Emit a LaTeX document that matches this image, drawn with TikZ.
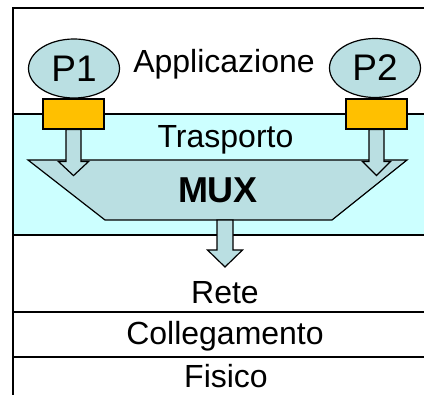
\documentclass[tikz,border=0pt]{standalone}
\usepackage{fontspec}
\setmainfont{Liberation Sans}
\usetikzlibrary{shapes.geometric,calc}
\definecolor{bandc}{HTML}{CCFFFF}
\definecolor{blu}{HTML}{BADFE2}
\definecolor{orng}{HTML}{FFC000}
\begin{document}
\begin{tikzpicture}[x=1pt,y=-1pt,line join=miter,
  layer/.style={line width=1.6pt},
  proc/.style={ellipse,draw,fill=blu,line width=1.2pt,minimum width=91pt,minimum height=59pt,inner sep=0pt,font=\fontsize{37}{37}\selectfont},
  sock/.style={draw,fill=orng,line width=1.2pt,minimum width=61pt,minimum height=30pt,inner sep=0pt},
  lbl/.style={anchor=base,inner sep=0pt,font=\fontsize{32}{32}\selectfont},
  muxlbl/.style={anchor=base,inner sep=0pt,font=\fontsize{36}{36}\selectfont\bfseries},
  blk/.style={draw,fill=blu,line width=1.2pt}]
\useasboundingbox (0,0) rectangle (424,395);
\begin{scope}
\clip (0,0) rectangle (424,395);
\fill[bandc] (13,114) rectangle (440,235);
\draw[layer] (440,8) -- (13,8) -- (13,400);
\draw[layer] (13,114) -- (440,114);
\draw[layer] (13,235) -- (440,235);
\draw[layer] (13,312) -- (440,312);
\draw[layer] (13,357) -- (440,357);
\end{scope}
% processes and sockets
\node[proc] (p1) at (74,68.5) {P1};
\node[proc] (p2) at (375,68) {P2};
\node[sock] (s1) at (73.5,114) {};
\node[sock] (s2) at (376.5,114) {};
% MUX
\draw[blk] (28,160) coordinate (mtl) -- (407,160) coordinate (mtr) -- (332,220) coordinate (mbr) -- (105,220) coordinate (mbl) -- cycle;
\node[muxlbl] (mux) at (218,203) {MUX};
% block arrows
\draw[blk,shift={(s1.south)}] (-7.5,0) -- (-7.5,32) -- (-15,32) -- (0,46) -- (15,32) -- (7.5,32) -- (7.5,0) -- cycle;
\draw[blk,shift={(s2.south)}] (-7.5,0) -- (-7.5,32) -- (-14,32) -- (0,46) -- (14,32) -- (7.5,32) -- (7.5,0) -- cycle;
\coordinate (mo) at (225,220);
\draw[blk,shift={(mo)}] (-8,0) -- (-8,30) -- (-17.5,30) -- (0,47) -- (17.5,30) -- (8,30) -- (8,0) -- cycle;
% labels
\node[lbl] (app) at (224,73) {Applicazione};
\node[lbl] (tra) at (225.5,148) {Trasporto};
\node[lbl] (ret) at (225,304) {Rete};
\node[lbl] (col) at (225,345) {Collegamento};
\node[lbl] (fis) at (226,387.5) {Fisico};
\end{tikzpicture}
\end{document}
